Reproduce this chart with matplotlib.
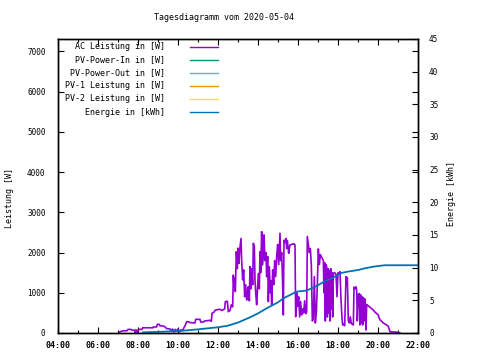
import matplotlib
matplotlib.use("Agg")
import matplotlib.pyplot as plt
from matplotlib.lines import Line2D
from matplotlib.ticker import MultipleLocator

title = "Tagesdiagramm vom 2020-05-04"
series_names = ["AC Leistung in [W]", "PV-Power-In in [W]", "PV-Power-Out in [W]",
                "PV-1 Leistung in [W]", "PV-2 Leistung in [W]", "Energie in [kWh]"]
series_colors = ["#9400D3", "#009E73", "#56B4E9", "#E69F00", "#F0E442", "#0072B2"]

x_ticks = [4, 6, 8, 10, 12, 14, 16, 18, 20, 22]
x_tick_labels = ["04:00", "06:00", "08:00", "10:00", "12:00", "14:00", "16:00",
                 "18:00", "20:00", "22:00"]
left_ticks = [0, 1000, 2000, 3000, 4000, 5000, 6000, 7000]
right_ticks = [0, 5, 10, 15, 20, 25, 30, 35, 40, 45]

ac_times = ["07:03", "07:06", "07:15", "07:27", "07:30", "07:39", "07:42", "07:50", "07:51", "07:53",
            "07:57", "07:58", "08:00", "08:03", "08:12", "08:14", "08:45", "08:46", "08:56", "08:58",
            "09:04", "09:06", "09:16", "09:21", "09:26", "09:36", "09:40", "09:44", "09:48", "09:52",
            "09:56", "10:00", "10:04", "10:08", "10:12", "10:16", "10:21", "10:26", "10:31", "10:36",
            "10:51", "10:53", "11:06", "11:08", "11:16", "11:20", "11:36", "11:40", "11:42", "11:48",
            "11:52", "12:05", "12:12", "12:20", "12:22", "12:28", "12:31", "12:36", "12:40", "12:44",
            "12:46", "12:48", "12:50", "12:52", "12:55", "12:58", "13:00", "13:03", "13:05", "13:09",
            "13:11", "13:14", "13:17", "13:20", "13:23", "13:26", "13:29", "13:31", "13:34", "13:36",
            "13:39", "13:41", "13:44", "13:46", "13:49", "13:51", "13:54", "13:56", "13:58", "14:01",
            "14:04", "14:06", "14:08", "14:11", "14:13", "14:16", "14:18", "14:21", "14:24", "14:26",
            "14:29", "14:31", "14:34", "14:37", "14:39", "14:41", "14:44", "14:47", "14:50", "14:53",
            "14:56", "14:59", "15:02", "15:04", "15:06", "15:08", "15:11", "15:14", "15:16", "15:18",
            "15:21", "15:24", "15:26", "15:28", "15:30", "15:32", "15:34", "15:36", "15:48", "15:51",
            "15:53", "15:56", "15:59", "16:02", "16:05", "16:08", "16:11", "16:14", "16:17", "16:20",
            "16:23", "16:26", "16:28", "16:31", "16:34", "16:37", "16:40", "16:43", "16:46", "16:49",
            "16:52", "16:55", "16:58", "17:01", "17:04", "17:07", "17:10", "17:13", "17:16", "17:18",
            "17:20", "17:22", "17:24", "17:26", "17:28", "17:30", "17:32", "17:34", "17:36", "17:38",
            "17:40", "17:42", "17:44", "17:46", "17:50", "17:54", "17:57", "18:00", "18:04", "18:06",
            "18:09", "18:12", "18:14", "18:17", "18:20", "18:24", "18:26", "18:28", "18:31", "18:34",
            "18:37", "18:40", "18:43", "18:46", "18:48", "18:51", "18:54", "18:56", "18:58", "19:01",
            "19:04", "19:06", "19:08", "19:10", "19:12", "19:14", "19:16", "19:18", "19:20", "19:21",
            "19:24", "19:26", "19:36", "19:46", "19:52", "20:01", "20:02", "20:06", "20:16", "20:26",
            "20:31", "20:36", "20:45", "21:00", "21:06"]
ac_power = [0, 30, 55, 55, 90, 90, 70, 70, 5, 70,
            70, 5, 70, 90, 90, 130, 130, 150, 150, 215,
            215, 180, 175, 150, 110, 100, 60, 100, 20, 90,
            40, 100, 30, 80, 60, 100, 180, 280, 280, 260,
            250, 340, 340, 275, 270, 300, 315, 290, 490, 520,
            570, 590, 560, 600, 780, 790, 530, 560, 700, 650,
            1440, 1150, 1360, 1030, 2020, 1600, 2110, 1730, 2050, 2350,
            1800, 1320, 1570, 900, 1200, 820, 1000, 1150, 800, 1650,
            1100, 1600, 1200, 2230, 2150, 1300, 900, 700, 1000, 1480,
            1100, 2020, 1500, 2520, 1690, 1900, 2440, 1800, 2000, 1400,
            1900, 780, 1650, 1000, 1300, 700, 1570, 1200, 1800, 1400,
            1900, 2200, 1700, 2100, 2480, 1800, 2000, 1200, 450, 2310,
            2250, 2350, 2100, 2300, 2150, 1980, 2100, 2190, 2220, 2190,
            405, 1000, 660, 900, 400, 780, 450, 600, 500, 800,
            480, 520, 2400, 2200, 2000, 2100, 1700, 300, 350, 1400,
            250, 500, 1200, 2090, 1700, 1950, 1900, 1850, 1800, 1000,
            1750, 300, 1700, 1650, 400, 1600, 500, 1550, 300, 1600,
            600, 1500, 400, 1480, 1500, 1460, 900, 1500, 1480, 1525,
            820, 365, 200, 220, 180, 1400, 1200, 1380, 310, 250,
            400, 230, 220, 200, 1140, 1100, 1150, 1070, 300, 960,
            980, 200, 950, 250, 900, 200, 880, 300, 850, 700,
            75, 710, 640, 570, 510, 450, 400, 330, 250, 200,
            165, 30, 25, 20, 0]

energy_times = ["08:15", "09:15", "10:00", "10:30", "11:00", "11:30", "12:00", "12:30", "12:46",
                "13:00", "13:36", "14:00", "14:26", "15:00", "15:16", "15:56", "16:26", "16:56",
                "17:20", "17:46", "18:11", "18:30", "19:01", "19:20", "19:46", "20:00", "20:21",
                "22:00"]
energy_kwh = [0.1, 0.2, 0.3, 0.42, 0.56, 0.72, 0.88, 1.12, 1.38,
              1.6, 2.4, 3.0, 3.78, 4.7, 5.3, 6.33, 6.5, 7.2,
              7.9, 8.5, 9.2, 9.4, 9.65, 9.9, 10.15, 10.25, 10.37,
              10.37]

empty_series = {"PV-Power-In": [], "PV-Power-Out": [], "PV-1": [], "PV-2": []}


def to_hours(ts):
    return [int(t[:2]) + int(t[3:]) / 60.0 for t in ts]


plt.rcParams["font.family"] = ["DejaVu Sans Mono"]
fig = plt.figure(figsize=(4.8, 3.6), dpi=100)
ax = fig.add_axes([58 / 480, 27 / 360, 360 / 480, 294 / 360])
ax2 = ax.twinx()

ax.plot(to_hours(ac_times), ac_power, color=series_colors[0], lw=1.2)
for i, (k, v) in enumerate(empty_series.items()):
    ax.plot(v, v, color=series_colors[i + 1], lw=1.0)
ax2.plot(to_hours(energy_times), energy_kwh, color=series_colors[5], lw=1.3)

ax.set_xlim(4, 22)
ax.set_ylim(0, 7310)
ax2.set_ylim(0, 45)

ax.set_xticks(x_ticks)
ax.set_xticklabels(x_tick_labels, fontsize=6, fontweight="bold")
ax.xaxis.set_minor_locator(MultipleLocator(1))
ax.set_yticks(left_ticks)
ax.set_yticklabels([str(v) for v in left_ticks], fontsize=5.5)
ax2.set_yticks(right_ticks)
ax2.set_yticklabels([str(v) for v in right_ticks], fontsize=5.5)

ax.tick_params(axis="both", which="major", direction="in", length=4, width=0.8,
               top=True, right=True)
ax.tick_params(axis="x", which="minor", direction="in", length=2, width=0.8, top=True)
ax.tick_params(axis="x", which="major", pad=6)
ax.tick_params(axis="y", which="major", pad=9)
ax2.tick_params(axis="y", direction="in", length=4, width=0.8, pad=8)

for a in (ax, ax2):
    for s in a.spines.values():
        s.set_linewidth(1.0)
        s.set_color("black")

fig.text(223.5 / 480, 1 - 17.5 / 360, title, ha="center", va="center", fontsize=6)
fig.text(10 / 480, 1 - 198 / 360, "Leistung [W]", rotation=90, ha="center", va="center",
         fontsize=6)
fig.text(451.7 / 480, 1 - 193 / 360, "Energie [kWh]", rotation=90, ha="center", va="center",
         fontsize=6)

# legend, drawn in axes coordinates (gnuplot style: right-aligned text, sample on the right)
for i, (name, col) in enumerate(zip(series_names, series_colors)):
    yy = 0.974 - i * 0.0445
    ax.text(0.297, yy, name, transform=ax.transAxes, ha="right", va="center", fontsize=6)
    ax.add_line(Line2D([0.367, 0.444], [yy, yy], transform=ax.transAxes, color=col, lw=1.0))

fig.savefig("out.png", dpi=100)
